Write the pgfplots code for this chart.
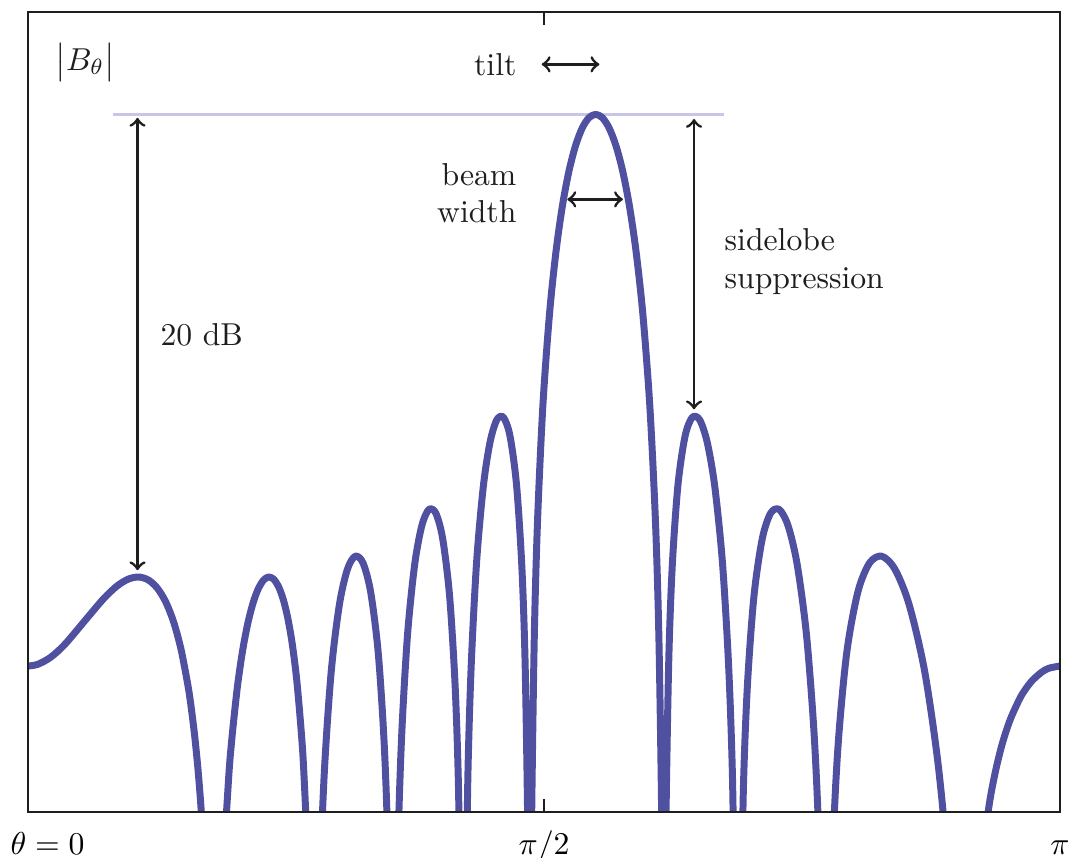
\documentclass[border=0pt]{standalone}
\usepackage{pgfplots}
\pgfplotsset{compat=1.18}
\definecolor{beam}{RGB}{80,80,160}
\definecolor{faint}{RGB}{200,198,230}
\definecolor{ink}{RGB}{30,30,30}
\begin{document}
\begin{tikzpicture}
\useasboundingbox (-8.83pt,-14.2pt) rectangle (328.1pt,256.2pt);
\begin{axis}[
  at={(0,0)}, anchor=south west,
  scale only axis, width=325.6pt, height=252.4pt,
  xmin=0, xmax=180, ymin=-30, ymax=4.4,
  xtick={0,90,180},
  xticklabels={\hspace*{12.3pt}$\theta=0$,$\pi/2$,$\pi$},
  xticklabel style={anchor=base, yshift=-13.25pt},
  ytick=\empty,
  xtick pos=both, tick align=inside,
  major tick length=4.2pt,
  every tick/.style={ink, line width=0.5pt},
  axis line style={ink, line width=0.75pt},
  axis on top,
  clip=true,
]
\addplot[faint, line width=0.9pt] coordinates {(14.83,0) (121.40,0)};
\addplot[beam, line width=2.2pt, line join=round, smooth, tension=0.5] coordinates {
(0.000,-23.719) (1.688,-23.648) (3.998,-23.335) (6.503,-22.767) (10.402,-21.629)
(13.203,-20.820) (15.513,-20.281) (17.528,-19.978) (19.340,-19.892) (21.000,-20.021)
(22.544,-20.367) (23.997,-20.949) (25.369,-21.802) (26.675,-22.983) (27.925,-24.599)
(28.530,-25.626) (29.125,-26.849) (29.710,-28.336) (30.281,-30.196)
(30.956,-33.223) (31.835,-40.527)
(33.116,-40.530) (33.946,-33.223) (34.959,-28.674) (35.554,-26.849) (36.528,-24.599)
(37.480,-22.983) (38.412,-21.802) (39.325,-20.949)
(40.220,-20.367) (41.100,-20.021) (41.964,-19.892) (42.814,-19.978) (43.650,-20.281)
(44.474,-20.820) (45.286,-21.629)
(46.087,-22.767) (46.877,-24.339) (47.657,-26.546)
(48.121,-28.344) (48.886,-32.849) (49.491,-40.117)
(50.389,-40.064) (50.982,-32.725) (51.716,-28.131) (52.874,-23.984) (54.298,-21.095)
(55.697,-19.567) (57.073,-18.998) (58.428,-19.289)
(59.764,-20.538) (61.081,-23.147)
(62.124,-27.068) (62.770,-31.519) (63.284,-38.744)
(64.051,-38.626) (64.560,-31.242) (65.193,-26.592) (66.199,-22.352) (67.445,-19.344)
(68.681,-17.690) (69.906,-16.990) (71.121,-17.144)
(72.328,-18.249) (73.527,-20.704)
(74.481,-24.498) (75.074,-28.866) (75.548,-36.023)
(76.257,-35.798) (76.728,-28.340) (77.316,-23.595) (78.254,-19.196) (79.422,-15.976)
(80.586,-14.092) (81.746,-13.141) (82.902,-13.020) (84.055,-13.820)
(85.206,-15.936) (86.126,-19.427) (86.700,-23.592) (87.159,-30.575) (87.331,-36.464)
(87.675,-36.212) (87.847,-30.071) (88.306,-22.414) (88.879,-17.402) (89.796,-12.529)
(90.942,-8.616) (92.088,-5.891) (93.235,-3.887) (94.384,-2.397) (95.534,-1.314)
(96.686,-0.575) (97.842,-0.142) (99.000,0.000) (100.162,-0.142) (101.329,-0.575)
(102.500,-1.314) (103.676,-2.397) (104.858,-3.887) (106.048,-5.891) (107.244,-8.616)
(108.447,-12.529) (109.417,-17.402) (110.025,-22.414) (110.514,-30.071) (110.698,-36.212)
(111.065,-36.464) (111.250,-30.575) (111.742,-23.592) (112.361,-19.427) (113.355,-15.936)
(114.610,-13.820) (115.877,-13.020) (117.157,-13.141) (118.453,-14.092)
(119.764,-15.976) (121.093,-19.196) (122.170,-23.595) (122.849,-28.340) (123.397,-35.798)
(124.224,-36.023) (124.781,-28.866) (125.481,-24.498) (126.615,-20.704) (128.056,-18.249)
(129.526,-17.144) (131.028,-16.990) (132.566,-17.690)
(134.142,-19.344) (135.761,-22.352)
(137.091,-26.592) (137.939,-31.242) (138.628,-38.626)
(139.679,-38.744) (140.393,-31.519) (141.300,-27.068) (142.791,-23.147) (144.729,-20.538)
(146.765,-19.289) (148.919,-18.998) (151.215,-19.567)
(153.693,-21.095) (156.410,-23.984)
(158.818,-28.131) (160.464,-32.725) (161.885,-40.064)
(164.245,-40.117) (166.033,-32.849) (167.537,-29.848) (168.647,-28.344) (169.877,-27.095)
(171.277,-26.038) (172.948,-25.129) (173.952,-24.720) (175.160,-24.339) (176.793,-23.982)
(178.072,-23.812) (180.000,-23.719)
};
\draw[ink, line width=0.9pt, <->] (axis cs:19.1,-0.15) -- (axis cs:19.1,-19.6);
\draw[ink, line width=0.9pt, <->] (axis cs:116.16,-0.2) -- (axis cs:116.16,-12.68);
\draw[ink, line width=0.9pt, <->] (axis cs:89.6,2.151) -- (axis cs:99.65,2.151);
\draw[ink, line width=0.9pt, <->] (axis cs:94.07,-3.654) -- (axis cs:103.76,-3.654);
\node[ink, inner sep=0pt, anchor=base east] at (axis cs:85.29,1.69) {tilt};
\node[ink, inner sep=0pt, anchor=base east] at (axis cs:85.29,-3.039) {beam};
\node[ink, inner sep=0pt, anchor=base east] at (axis cs:85.29,-4.660) {width};
\node[ink, inner sep=0pt, anchor=base west] at (axis cs:121.40,-5.834) {sidelobe};
\node[ink, inner sep=0pt, anchor=base west] at (axis cs:121.40,-7.468) {suppression};
\node[ink, inner sep=0pt, anchor=base west] at (axis cs:23.02,-9.919) {20 dB};
\node[ink, inner sep=0pt, anchor=base west] at (axis cs:4.71,1.906) {$\bigl|B_\theta\bigr|$};
\end{axis}
\end{tikzpicture}
\end{document}
